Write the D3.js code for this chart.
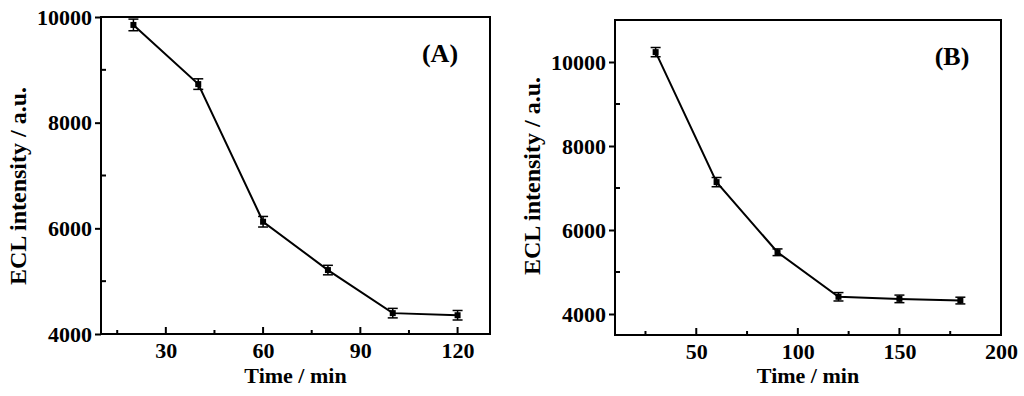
<!DOCTYPE html>
<html>
<head>
<meta charset="utf-8">
<script src="https://cdn.jsdelivr.net/npm/d3@7"></script>
<style>
  body { margin: 0; background: #fff; }
  svg text { font-family: "Liberation Serif", "Times New Roman", serif; font-weight: bold; fill: #000; }
</style>
</head>
<body>
<svg id="chart" width="1024" height="396"></svg>
<script>
// panel A data
var timeA = [20, 40, 60, 80, 100, 120];
var eclA = [9850, 8730, 6125, 5210, 4395, 4355];
var errA = [110, 100, 100, 90, 90, 90];
var xTicksA = [30, 60, 90, 120];
var xMinorA = [15, 45, 75, 105];
var yTicksA = [4000, 6000, 8000, 10000];
var yMinorA = [5000, 7000, 9000];

// panel B data
var timeB = [30, 60, 90, 120, 150, 180];
var eclB = [10235, 7140, 5470, 4410, 4360, 4320];
var errB = [110, 110, 80, 100, 90, 80];
var xTicksB = [50, 100, 150, 200];
var xMinorB = [25, 75, 125, 175];
var yTicksB = [4000, 6000, 8000, 10000];
var yMinorB = [5000, 7000, 9000];

var svg = d3.select("#chart");

function drawPanel(p) {
    var x = d3.scaleLinear().domain(p.xDomain).range([p.left, p.right]);
    var y = d3.scaleLinear().domain(p.yDomain).range([p.bottom, p.top]);
    var g = svg.append("g");

    // frame
    g.append("rect")
        .attr("x", p.left).attr("y", p.top)
        .attr("width", p.right - p.left).attr("height", p.bottom - p.top)
        .attr("fill", "none").attr("stroke", "#000").attr("stroke-width", 2);

    // y axis: major ticks outward, minor inward
    var yAxis = d3.axisLeft(y).tickValues(p.yTicks).tickFormat(d3.format("d")).tickSize(6).tickPadding(3);
    var ya = g.append("g").attr("transform", "translate(" + p.left + ",0)").call(yAxis);
    ya.select(".domain").remove();
    ya.selectAll("line").attr("stroke-width", 2);
    ya.selectAll("text").style("font-size", "22px");

    g.selectAll(".yminor").data(p.yMinor).enter().append("line")
        .attr("x1", p.left).attr("x2", p.left + 5)
        .attr("y1", d => y(d)).attr("y2", d => y(d))
        .attr("stroke", "#000").attr("stroke-width", 2);

    // x axis: ticks inward
    var xa = g.append("g").attr("transform", "translate(0," + p.bottom + ")")
        .call(d3.axisBottom(x).tickValues(p.xTicks).tickFormat(d3.format("d")).tickSize(0).tickPadding(8));
    xa.select(".domain").remove();
    xa.selectAll("text").style("font-size", "22px");

    g.selectAll(".xmajor").data(p.xTicks.filter(d => x(d) < p.right - 1)).enter().append("line")
        .attr("x1", d => x(d)).attr("x2", d => x(d))
        .attr("y1", p.bottom).attr("y2", p.bottom - 7)
        .attr("stroke", "#000").attr("stroke-width", 2);
    g.selectAll(".xminor").data(p.xMinor).enter().append("line")
        .attr("x1", d => x(d)).attr("x2", d => x(d))
        .attr("y1", p.bottom).attr("y2", p.bottom - 4)
        .attr("stroke", "#000").attr("stroke-width", 2);

    var pts = p.xs.map((d, i) => ({ x: d, y: p.ys[i], e: p.errs[i] }));

    // line
    g.append("path").datum(pts)
        .attr("fill", "none").attr("stroke", "#000").attr("stroke-width", 2)
        .attr("d", d3.line().x(d => x(d.x)).y(d => y(d.y)));

    // error bars
    pts.forEach(d => {
        var cx = x(d.x);
        g.append("line").attr("x1", cx).attr("x2", cx)
            .attr("y1", y(d.y - d.e)).attr("y2", y(d.y + d.e))
            .attr("stroke", "#000").attr("stroke-width", 1.5);
        [d.y - d.e, d.y + d.e].forEach(v => {
            g.append("line").attr("x1", cx - 5).attr("x2", cx + 5)
                .attr("y1", y(v)).attr("y2", y(v))
                .attr("stroke", "#000").attr("stroke-width", 1.5);
        });
    });

    // markers
    g.selectAll(".pt").data(pts).enter().append("rect")
        .attr("x", d => x(d.x) - 3).attr("y", d => y(d.y) - 3)
        .attr("width", 6).attr("height", 6).attr("fill", "#000");

    // axis titles
    g.append("text")
        .attr("x", (p.left + p.right) / 2 + p.xTitleShift).attr("y", 383)
        .attr("text-anchor", "middle").style("font-size", "22px")
        .text("Time / min");
    g.append("text")
        .attr("transform", "translate(" + p.yTitleX + "," + p.yTitleY + ") rotate(-90)")
        .attr("text-anchor", "middle").style("font-size", "24px")
        .text("ECL intensity / a.u.");

    // panel label
    g.append("text")
        .attr("x", p.labelX).attr("y", p.labelY)
        .attr("text-anchor", "middle").style("font-size", "26px")
        .text(p.label);
}

drawPanel({
    left: 101, right: 490, top: 17, bottom: 334,
    xDomain: [10, 130], yDomain: [4000, 10000],
    xTicks: xTicksA, xMinor: xMinorA, yTicks: yTicksA, yMinor: yMinorA,
    xs: timeA, ys: eclA, errs: errA,
    xTitleShift: 0, yTitleX: 26, yTitleY: 186,
    label: "(A)", labelX: 440, labelY: 62
});

drawPanel({
    left: 615, right: 1001, top: 20, bottom: 335,
    xDomain: [10, 200], yDomain: [3500, 11000],
    xTicks: xTicksB, xMinor: xMinorB, yTicks: yTicksB, yMinor: yMinorB,
    xs: timeB, ys: eclB, errs: errB,
    xTitleShift: 0, yTitleX: 540, yTitleY: 176,
    label: "(B)", labelX: 952, labelY: 65
});
</script>
</body>
</html>
